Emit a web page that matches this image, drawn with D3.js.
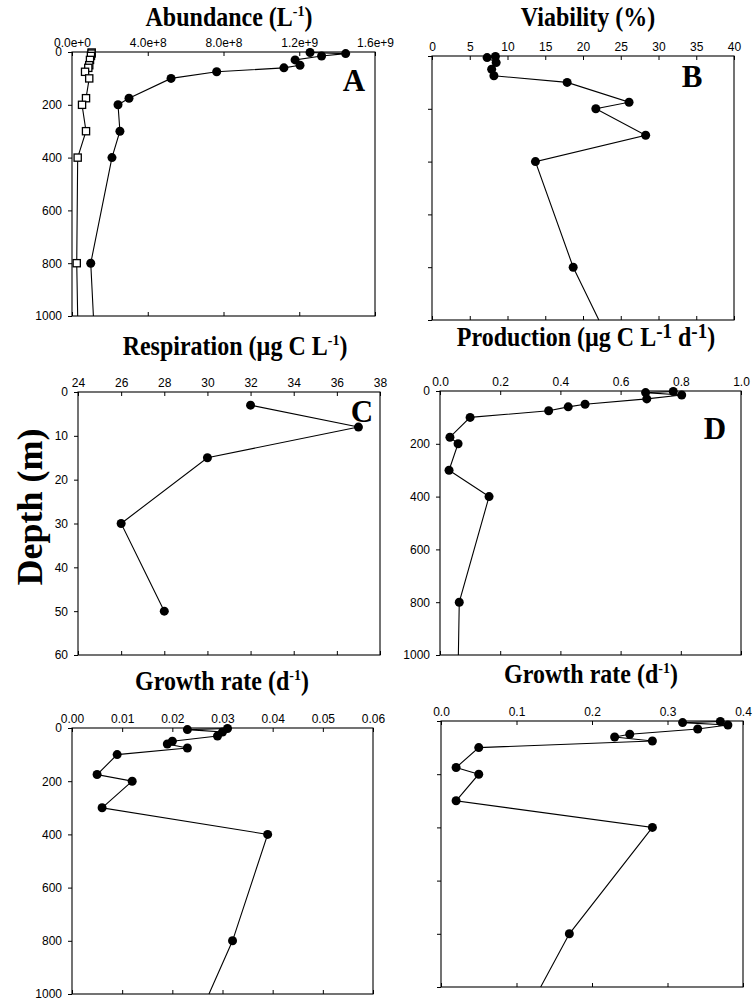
<!DOCTYPE html>
<html>
<head>
<meta charset="utf-8">
<script src="https://cdn.jsdelivr.net/npm/d3@7"></script>
<style>
body { margin: 0; background: #fff; }
svg { display: block; }
.tick text { font-family: "Liberation Sans", Arial, sans-serif; font-size: 12px; fill: #000; }
.tick line { stroke: #000; }
.serif { font-family: "Liberation Serif", "Times New Roman", serif; font-weight: bold; fill: #000; }
</style>
</head>
<body>
<svg id="chart" width="754" height="1003"></svg>
<script>

// sampling depths (m)
var depths = [2, 6, 15, 30, 50, 60, 75, 100, 175, 200, 300, 400, 800]
var viabilityDepths = [2, 6, 25, 50, 75, 100, 175, 200, 300, 400, 800]
var respirationDepths = [3, 8, 15, 30, 50]

// A - abundance (L-1), filled circles and open squares
var abundanceFilled = [1.257e9, 1.445e9, 1.318e9, 1.178e9, 1.204e9, 1.119e9, 0.764e9, 0.523e9, 0.301e9, 0.243e9, 0.253e9, 0.211e9, 0.099e9]
var abundanceOpen = [0.104e9, 0.103e9, 0.100e9, 0.095e9, 0.091e9, 0.086e9, 0.069e9, 0.091e9, 0.074e9, 0.053e9, 0.074e9, 0.030e9, 0.025e9]
// B - viability (%)
var viability = [8.4, 7.3, 8.5, 7.9, 8.2, 17.9, 26.1, 21.7, 28.3, 13.7, 18.7]
// C - respiration (ug C L-1)
var respiration = [32.0, 37.0, 30.0, 26.0, 28.0]
// D - production (ug C L-1 d-1)
var production = [0.775, 0.683, 0.803, 0.687, 0.482, 0.426, 0.361, 0.100, 0.033, 0.060, 0.030, 0.163, 0.064]
// E, F - growth rates (d-1)
var growthLeft = [0.031, 0.023, 0.030, 0.029, 0.020, 0.019, 0.023, 0.009, 0.005, 0.012, 0.006, 0.039, 0.032]
var growthRight = [0.37, 0.32, 0.38, 0.34, 0.25, 0.23, 0.28, 0.05, 0.02, 0.05, 0.02, 0.28, 0.17]

// value where each profile line leaves the frame at 1000 m
var lineEnd = { abFilled: 0.113e9, abOpen: 0.030e9, viability: 22.1, production: 0.061, growthLeft: 0.0273, growthRight: 0.132 }

// tick values
var depthTicks = [0, 200, 400, 600, 800, 1000]
var respDepthTicks = [0, 10, 20, 30, 40, 50, 60]
var abundanceTicks = [0, 4e8, 8e8, 1.2e9, 1.6e9]
var viabilityTicks = [0, 5, 10, 15, 20, 25, 30, 35, 40]
var respirationTicks = [24, 26, 28, 30, 32, 34, 36, 38]
var productionTicks = [0, 0.2, 0.4, 0.6, 0.8, 1.0]
var growthLeftTicks = [0, 0.01, 0.02, 0.03, 0.04, 0.05, 0.06]
var growthRightTicks = [0, 0.1, 0.2, 0.3, 0.4]

var svg = d3.select("#chart")

function pts(ds, vs, endVal) {
    var out = ds.map(function (d, i) { return { d: d, v: vs[i], mark: true } })
    if (endVal != null) out.push({ d: 1000, v: endVal, mark: false })
    return out
}

var panels = [
    { left: 72, right: 375, top: 52, bottom: 316,
      xDomain: [0, 1.6e9], xTicks: abundanceTicks, xFormat: d3.format(".1e"),
      yDomain: [0, 1000], yTicks: depthTicks, yLabels: true,
      title: [["Abundance (L", 0], ["-1", 1], [")", 0]], titleX: 229, titleY: 26,
      letter: "A", letterX: 354, letterY: 91,
      series: [
          { data: pts(depths, abundanceFilled, lineEnd.abFilled), marker: "circle" },
          { data: pts(depths, abundanceOpen, lineEnd.abOpen), marker: "square" }
      ] },
    { left: 432, right: 734, top: 56, bottom: 320,
      xDomain: [0, 40], xTicks: viabilityTicks, xFormat: d3.format("d"),
      yDomain: [0, 1000], yTicks: depthTicks, yLabels: false,
      title: [["Viability (%)", 0]], titleX: 588, titleY: 26,
      letter: "B", letterX: 692, letterY: 87,
      series: [{ data: pts(viabilityDepths, viability, lineEnd.viability), marker: "circle" }] },
    { left: 78, right: 380, top: 392, bottom: 655,
      xDomain: [24, 38], xTicks: respirationTicks, xFormat: d3.format("d"),
      yDomain: [0, 60], yTicks: respDepthTicks, yLabels: true,
      title: [["Respiration (\u00b5g C L", 0], ["-1", 1], [")", 0]], titleX: 235, titleY: 355,
      letter: "C", letterX: 362, letterY: 422,
      series: [{ data: pts(respirationDepths, respiration, null), marker: "circle" }] },
    { left: 440, right: 741, top: 391, bottom: 655,
      xDomain: [0, 1], xTicks: productionTicks, xFormat: d3.format(".1f"),
      yDomain: [0, 1000], yTicks: depthTicks, yLabels: true,
      title: [["Production (\u00b5g C L", 0], ["-1", 2], [" d", 0], ["-1", 2], [")", 0]], titleX: 586, titleY: 346,
      letter: "D", letterX: 715, letterY: 439,
      series: [{ data: pts(depths, production, lineEnd.production), marker: "circle" }] },
    { left: 72, right: 373, top: 728, bottom: 994,
      xDomain: [0, 0.06], xTicks: growthLeftTicks, xFormat: d3.format(".2f"),
      yDomain: [0, 1000], yTicks: depthTicks, yLabels: true,
      title: [["Growth rate (d", 0], ["-1", 1], [")", 0]], titleX: 222, titleY: 690,
      letter: null,
      series: [{ data: pts(depths, growthLeft, lineEnd.growthLeft), marker: "circle" }] },
    { left: 441, right: 743, top: 721, bottom: 987,
      xDomain: [0, 0.4], xTicks: growthRightTicks, xFormat: d3.format(".1f"),
      yDomain: [0, 1000], yTicks: depthTicks, yLabels: false,
      title: [["Growth rate (d", 0], ["-1", 1], [")", 0]], titleX: 591, titleY: 683,
      letter: null,
      series: [{ data: pts(depths, growthRight, lineEnd.growthRight), marker: "circle" }] }
]

panels.forEach(drawPanel)

function drawPanel(p) {
    var x = d3.scaleLinear().domain(p.xDomain).range([p.left, p.right])
    var y = d3.scaleLinear().domain(p.yDomain).range([p.top, p.bottom])
    var g = svg.append("g")

    // top axis, ticks pointing into the frame
    g.append("g")
        .attr("transform", "translate(0," + p.top + ")")
        .call(d3.axisTop(x).tickValues(p.xTicks).tickFormat(p.xFormat)
            .tickSizeInner(-4).tickSizeOuter(0).tickPadding(5))
    // bottom axis, ticks only
    g.append("g")
        .attr("transform", "translate(0," + p.bottom + ")")
        .call(d3.axisBottom(x).tickValues(p.xTicks).tickFormat("")
            .tickSizeInner(-4).tickSizeOuter(0))
    // left axis, outward ticks
    g.append("g")
        .attr("transform", "translate(" + p.left + ",0)")
        .call(d3.axisLeft(y).tickValues(p.yTicks)
            .tickFormat(p.yLabels ? d3.format("d") : "")
            .tickSizeInner(4).tickSizeOuter(0).tickPadding(6))
    g.selectAll(".domain").remove()

    g.append("rect")
        .attr("x", p.left).attr("y", p.top)
        .attr("width", p.right - p.left).attr("height", p.bottom - p.top)
        .attr("fill", "none").attr("stroke", "#000").attr("stroke-width", 1.1)

    var line = d3.line()
        .x(function (d) { return x(d.v) })
        .y(function (d) { return y(d.d) })

    p.series.forEach(function (s) {
        g.append("path")
            .datum(s.data)
            .attr("d", line)
            .attr("fill", "none").attr("stroke", "#000").attr("stroke-width", 1.1)
    })
    p.series.forEach(function (s) {
        var marks = s.data.filter(function (d) { return d.mark })
        if (s.marker == "circle") {
            g.selectAll(null).data(marks).enter().append("circle")
                .attr("cx", function (d) { return x(d.v) })
                .attr("cy", function (d) { return y(d.d) })
                .attr("r", 4.5)
                .attr("fill", "#000")
        } else {
            g.selectAll(null).data(marks).enter().append("rect")
                .attr("x", function (d) { return x(d.v) - 3.6 })
                .attr("y", function (d) { return y(d.d) - 3.6 })
                .attr("width", 7.2).attr("height", 7.2)
                .attr("fill", "#fff").attr("stroke", "#000").attr("stroke-width", 1.3)
        }
    })

    // title with superscripts
    var t = g.append("text")
        .attr("class", "serif")
        .attr("text-anchor", "middle")
        .attr("font-size", 24)
        .attr("transform", "translate(" + p.titleX + "," + p.titleY + ") scale(1,1.1)")
    var raised = false
    p.title.forEach(function (part) {
        var ts = t.append("tspan").text(part[0])
        if (part[1] == 1) {
            ts.attr("font-size", 14).attr("dy", raised ? 0 : -9)
            raised = true
        } else if (part[1] == 2) {
            ts.attr("font-size", 19).attr("dy", raised ? 0 : -7)
            raised = true
        } else if (raised) {
            ts.attr("dy", part[1] == 0 && p.title.some(function (q) { return q[1] == 2 }) ? 7 : 9)
            raised = false
        }
    })

    if (p.letter) {
        g.append("text")
            .attr("class", "serif")
            .attr("text-anchor", "middle")
            .attr("font-size", 31)
            .attr("x", p.letterX).attr("y", p.letterY)
            .text(p.letter)
    }
}

svg.append("text")
    .attr("class", "serif")
    .attr("text-anchor", "middle")
    .attr("font-size", 36)
    .attr("transform", "translate(42,507) rotate(-90)")
    .text("Depth (m)")

</script>
</body>
</html>
